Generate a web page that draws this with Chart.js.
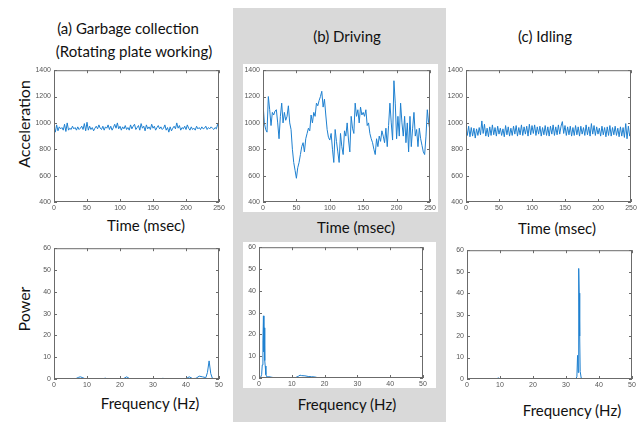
<!DOCTYPE html>
<html>
<head>
<meta charset="utf-8">
<script src="https://cdn.jsdelivr.net/npm/chart.js@4.4.1/dist/chart.umd.min.js"></script>
<style>
  body { margin: 0; background: #fff; }
  #fig { position: relative; width: 644px; height: 422px; background: #fff; overflow: hidden; }
  .panel { position: absolute; }
  .txt { position: absolute; font-family: Lato, "Open Sans", sans-serif; font-size: 15px; color: #111;
         white-space: nowrap; transform: translate(-50%, -50%); }
  .rot { font-size: 16px; transform: translate(-50%, -50%) rotate(-90deg); }
  canvas { position: absolute; }
</style>
</head>
<body>
<div id="fig">
  <div class="panel" style="left:233px;top:8px;width:213px;height:414px;background:#d9d9d9"></div>
  <div class="panel" style="left:243px;top:64px;width:195px;height:148px;background:#fff"></div>
  <div class="panel" style="left:243px;top:242px;width:193px;height:146px;background:#fff"></div>

  <div class="txt" style="left:128px;top:28px">(a) Garbage collection</div>
  <div class="txt" style="left:134px;top:51px">(Rotating plate working)</div>
  <div class="txt" style="left:347px;top:36px">(b) Driving</div>
  <div class="txt" style="left:545px;top:36px">(c) Idling</div>

  <div class="txt rot" style="left:23px;top:124px">Acceleration</div>
  <div class="txt rot" style="left:23px;top:309px">Power</div>

  <div class="txt" style="left:146px;top:225px">Time (msec)</div>
  <div class="txt" style="left:356px;top:227px">Time (msec)</div>
  <div class="txt" style="left:557px;top:228px">Time (msec)</div>
  <div class="txt" style="left:150px;top:403px">Frequency (Hz)</div>
  <div class="txt" style="left:347px;top:404px">Frequency (Hz)</div>
  <div class="txt" style="left:572px;top:410px">Frequency (Hz)</div>

  <canvas id="accA"></canvas>
  <canvas id="accB"></canvas>
  <canvas id="accC"></canvas>
  <canvas id="powA"></canvas>
  <canvas id="powB"></canvas>
  <canvas id="powC"></canvas>
</div>

<script>
// sample times of the acceleration traces (msec), one sample every 2 ms
const timeMs = Array.from({ length: 126 }, (_, i) => i * 2);

const accGarbage = [
  975, 930, 985, 940, 970, 955, 965, 945, 990, 935, 1000, 945, 960, 950, 975, 955,
  965, 945, 970, 950, 960, 975, 950, 995, 940, 1005, 945, 975, 950, 965, 940, 960,
  975, 955, 985, 960, 950, 975, 945, 970, 960, 985, 950, 975, 945, 965, 990, 960,
  1000, 955, 975, 945, 970, 955, 980, 950, 965, 945, 985, 955, 975, 990, 950, 965,
  980, 945, 995, 960, 975, 940, 985, 955, 970, 950, 990, 960, 975, 945, 965, 980,
  955, 970, 950, 960, 985, 945, 965, 930, 970, 940, 960, 975, 955, 1000, 960, 980,
  945, 965, 955, 975, 950, 985, 960, 945, 970, 950, 960, 945, 975, 955, 965, 950,
  970, 955, 960, 975, 950, 965, 955, 970, 960, 950, 965, 955, 990, 960,
];

const accDriving = [
  1150, 1000, 950, 930, 1200, 1100, 980, 1080, 1060, 1090, 1100, 1000, 880, 1050, 1150, 1000,
  1080, 1020, 1050, 1130, 1000, 950, 800, 700, 640, 580, 660, 700, 760, 820, 850, 780,
  880, 920, 960, 940, 1060, 1000, 1080, 1050, 1150, 1130, 1170, 1200, 1240, 1120, 1180, 1060,
  950, 890, 870, 920, 800, 700, 950, 860, 780, 700, 920, 820, 760, 940, 900, 1000,
  870, 780, 1050, 960, 920, 1150, 1050, 1100, 1000, 1120, 1060, 1080, 1050, 1100, 980, 1000,
  920, 880, 850, 800, 760, 880, 820, 900, 860, 940, 900, 850, 960, 820, 980, 1150,
  1000, 870, 1320, 1150, 880, 1050, 900, 1150, 1000, 900, 1050, 850, 1000, 780, 1050, 820,
  960, 1080, 900, 950, 820, 960, 880, 830, 780, 760, 900, 1100, 1000, 940,
];

const accIdling = [
  970, 905, 975, 895, 965, 900, 960, 885, 955, 905, 965, 910, 1015, 920, 990, 900,
  960, 895, 970, 905, 985, 910, 965, 900, 975, 915, 960, 905, 955, 895, 980, 910,
  970, 900, 960, 905, 975, 915, 980, 900, 965, 910, 985, 905, 970, 915, 975, 900,
  990, 910, 980, 920, 985, 905, 970, 915, 975, 900, 965, 910, 980, 905, 970, 900,
  975, 915, 985, 905, 970, 910, 985, 915, 975, 1010, 920, 980, 905, 970, 910, 975,
  900, 965, 905, 980, 910, 970, 900, 975, 915, 965, 905, 985, 910, 970, 900, 995,
  915, 980, 905, 970, 915, 960, 900, 975, 910, 965, 895, 970, 905, 980, 900, 965,
  910, 975, 905, 960, 895, 970, 900, 965, 890, 995, 880, 975, 900, 930,
];

const accTicks = { min: 400, max: 1400, step: 200 };
const timeTicks = { min: 0, max: 250, step: 50 };

// power spectra (Hz, power)
const freqGarbage = [0, 6.5, 7.5, 8, 8.5, 9.5, 15, 15.5, 16, 21, 22, 23, 32, 33, 34, 36,
  40, 41, 42, 43, 44, 45, 46, 46.5, 47, 47.5, 48, 49, 50];
const powGarbage = [0.1, 0.1, 0.8, 1.0, 0.7, 0.1, 0.1, 0.4, 0.1, 0.1, 1.0, 0.1, 0.1, 0.3, 0.1, 0.2,
  0.2, 1.0, 0.2, 0.3, 1.3, 1.0, 0.6, 3, 8.3, 2.5, 0.3, 0.1, 0.1];

const freqDriving = [0, 0.5, 0.8, 1.0, 1.2, 1.35, 1.5, 1.6, 1.75, 1.9, 2.1, 2.4, 3, 4, 5,
  11, 12, 12.5, 13, 14, 15, 16, 17, 18, 50];
const powDriving = [0.1, 0.3, 1.5, 6, 17, 28.5, 12, 23, 8, 5.5, 1.5, 0.5, 0.6, 0.3, 0.1,
  0.1, 0.8, 1.3, 1.1, 1.0, 0.7, 0.6, 0.5, 0.1, 0.1];

const freqIdling = [0, 9, 9.5, 10, 33, 33.3, 33.5, 33.7, 33.85, 34, 34.15, 34.3, 34.6, 35, 50];
const powIdling = [0.1, 0.1, 0.5, 0.1, 0.2, 1, 11, 3, 51.5, 40, 20, 3.5, 0.5, 0.1, 0.1];

const powTicks = { min: 0, max: 60, step: 10 };
const freqTicks = { min: 0, max: 50, step: 10 };

const LINE_COLOR = "#1f80d0";
const AXIS_COLOR = "#6b6b6b";
const TICK_LABEL_COLOR = "#555";
const Y_AXIS_W = 24;
const X_AXIS_H = 14;
const PAD_TOP = 6;
const PAD_RIGHT = 8;

// MATLAB style box with inward ticks
const boxPlugin = {
  id: "box",
  afterDraw(chart) {
    const { ctx, chartArea: a, scales } = chart;
    ctx.save();
    ctx.strokeStyle = AXIS_COLOR;
    ctx.lineWidth = 1;
    ctx.strokeRect(a.left + 0.5, a.top + 0.5, a.right - a.left - 1, a.bottom - a.top - 1);
    ctx.beginPath();
    for (const t of scales.x.ticks) {
      const px = Math.round(scales.x.getPixelForValue(t.value)) + 0.5;
      ctx.moveTo(px, a.bottom);
      ctx.lineTo(px, a.bottom - 3);
      ctx.moveTo(px, a.top);
      ctx.lineTo(px, a.top + 3);
    }
    for (const t of scales.y.ticks) {
      const py = Math.round(scales.y.getPixelForValue(t.value)) + 0.5;
      ctx.moveTo(a.left, py);
      ctx.lineTo(a.left + 3, py);
      ctx.moveTo(a.right, py);
      ctx.lineTo(a.right - 3, py);
    }
    ctx.stroke();
    ctx.restore();
  },
};

function makePlot(id, box, xs, ys, xt, yt) {
  const canvas = document.getElementById(id);
  const w = box.right - box.left + Y_AXIS_W + PAD_RIGHT;
  const h = box.bottom - box.top + PAD_TOP + X_AXIS_H;
  canvas.width = w;
  canvas.height = h;
  canvas.style.width = w + "px";
  canvas.style.height = h + "px";
  canvas.style.left = (box.left - Y_AXIS_W) + "px";
  canvas.style.top = (box.top - PAD_TOP) + "px";

  const tickFont = { family: "'Liberation Sans', Arial, sans-serif", size: 7 };
  return new Chart(canvas, {
    type: "line",
    data: {
      datasets: [{
        data: xs.map((x, i) => ({ x, y: ys[i] })),
        borderColor: LINE_COLOR,
        borderWidth: 1,
        pointRadius: 0,
        tension: 0,
        fill: false,
      }],
    },
    options: {
      responsive: false,
      animation: false,
      devicePixelRatio: 1,
      layout: { padding: { top: PAD_TOP, right: PAD_RIGHT, left: 0, bottom: 0 } },
      plugins: { legend: { display: false }, tooltip: { enabled: false } },
      scales: {
        x: {
          type: "linear",
          min: xt.min,
          max: xt.max,
          ticks: {
            stepSize: xt.step, color: TICK_LABEL_COLOR, font: tickFont, padding: 2, maxRotation: 0,
            callback: (v) => String(v),
          },
          grid: { display: false, drawTicks: false },
          border: { display: false },
          afterFit(scale) { scale.height = X_AXIS_H; },
        },
        y: {
          min: yt.min,
          max: yt.max,
          ticks: {
            stepSize: yt.step, color: TICK_LABEL_COLOR, font: tickFont, padding: 3,
            callback: (v) => String(v),
          },
          grid: { display: false, drawTicks: false },
          border: { display: false },
          afterFit(scale) { scale.width = Y_AXIS_W; },
        },
      },
    },
    plugins: [boxPlugin],
  });
}

makePlot("accA", { left: 54, right: 219, top: 69, bottom: 202 }, timeMs, accGarbage, timeTicks, accTicks);
makePlot("accB", { left: 263, right: 430, top: 69, bottom: 202 }, timeMs, accDriving, timeTicks, accTicks);
makePlot("accC", { left: 466, right: 631, top: 69, bottom: 202 }, timeMs, accIdling, timeTicks, accTicks);
makePlot("powA", { left: 54, right: 219, top: 247, bottom: 379 }, freqGarbage, powGarbage, freqTicks, powTicks);
makePlot("powB", { left: 259, right: 423, top: 246, bottom: 378 }, freqDriving, powDriving, freqTicks, powTicks);
makePlot("powC", { left: 467, right: 632, top: 249, bottom: 379 }, freqIdling, powIdling, freqTicks, powTicks);
</script>
</body>
</html>
